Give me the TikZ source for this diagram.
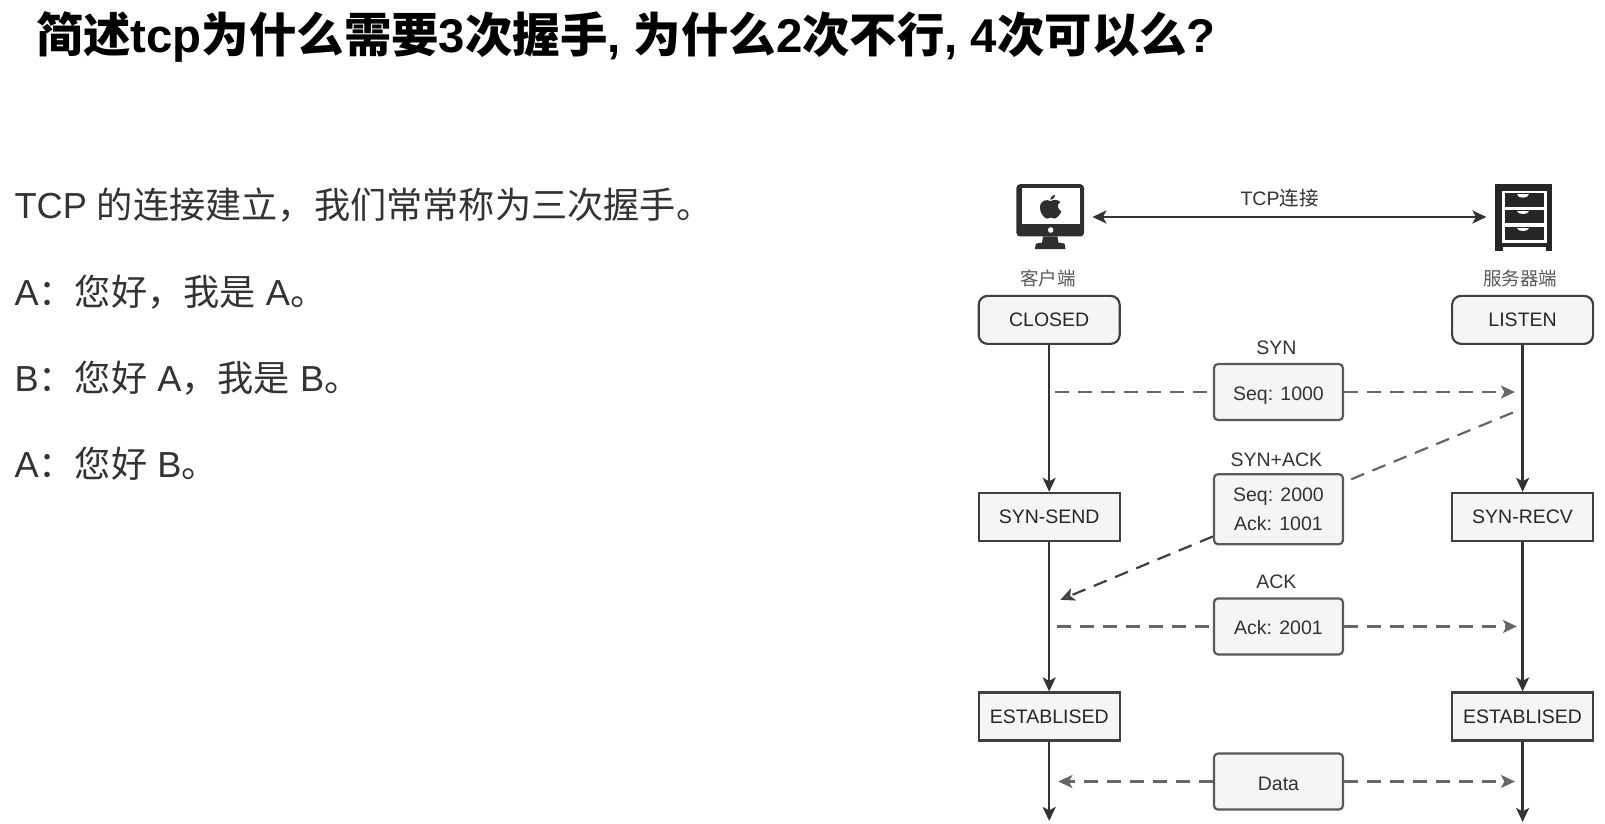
\documentclass[tikz,border=0pt]{standalone}
\usepackage{fontspec}
\setmainfont{Liberation Sans}
\newfontfamily\cjk{Noto Sans CJK SC}
\usetikzlibrary{arrows.meta}
\begin{document}
\begin{tikzpicture}[x=1.0236pt,y=-1.0236pt,
	head/.style={-{Stealth[length=14pt,width=13pt,inset=3.5pt]}},
	line/.style={draw=black!80,line width=2.3pt,head},
	msg/.style={draw=black!60,line width=2.2pt,dash pattern=on 14pt off 9pt},
	msgto/.style={msg,-{Stealth[length=14pt,width=13pt,inset=3.5pt,fill=black!60]}},
	state/.style={draw=black!75,fill=black!4,line width=2.2pt,minimum width=141pt,minimum height=48pt,font=\fontsize{19.5}{23}\selectfont,text=black!85,inner sep=0pt},
	round/.style={state,rounded corners=9pt},
	packet/.style={draw=black!65,fill=black!4,line width=2.2pt,rounded corners=4pt,minimum width=129pt,font=\fontsize{19.5}{29.5}\selectfont,text=black!80,inner sep=0pt,align=center},
	oneline/.style={packet,minimum height=56pt,text height=17pt,text depth=0pt},
	tag/.style={font=\fontsize{19.5}{23}\selectfont,text=black!80,inner sep=0pt},
	say/.style={anchor=west,inner sep=0pt,font=\fontsize{36.2}{43}\selectfont,text=black!80}]
	\useasboundingbox (0,0) rectangle (1568,805);
	\node[anchor=west,inner sep=0pt,font=\fontsize{47.4}{56}\selectfont\bfseries](title) at (35,36){{\cjk 简述}tcp{\cjk 为什么需要}3{\cjk 次握手}, {\cjk 为什么}2{\cjk 次不行}, 4{\cjk 次可以么}?};
	\node[say](l1) at (14,200){TCP {\cjk 的连接建立，我们常常称为三次握手。}};
	\node[say](l2) at (14,285){A{\cjk ：您好，我是} A{\cjk 。}};
	\node[say](l3) at (14,369){B{\cjk ：您好} A{\cjk ，我是} B{\cjk 。}};
	\node[say](l4) at (14,453){A{\cjk ：您好} B{\cjk 。}};

	% monitor
	\node[minimum width=68pt,minimum height=66pt,inner sep=0pt](mac) at (1026,212){};
	\fill[black!82,rounded corners=3.5pt] (993,180) rectangle (1059,231);
	\fill[white] (998,184) rectangle (1055,219);
	\fill[white] (1026.5,224.7) circle (2.7);
	\fill[black!82] (1019,231) -- (1033,231) -- (1034,237) -- (1040,238) -- (1041,243.5) -- (1011,243.5) -- (1012,238) -- (1018,237) -- cycle;
	\fill[black!82] (1026.5,196.5) .. controls (1023,194.5) and (1016,195) .. (1016,203) .. controls (1016,208) and (1020,213.5) .. (1023,213.5) .. controls (1025,213.5) and (1025,212.5) .. (1026.5,212.5) .. controls (1028,212.5) and (1028,213.5) .. (1030,213.5) .. controls (1032.5,213.5) and (1036,209) .. (1037,206.5) .. controls (1033,205) and (1032,199) .. (1036,197.5) .. controls (1033,194.5) and (1029,195) .. cycle;
	\fill[black!82] (1026,195.5) .. controls (1026,192.5) and (1028,190.5) .. (1031,190) .. controls (1031,193) and (1029,195) .. cycle;

	% cabinet
	\node[minimum width=57pt,minimum height=66pt,inner sep=0pt](cab) at (1489,212){};
	\fill[black!85] (1461,180) rectangle (1516.5,245);
	\fill[white] (1467,186.3) rectangle (1511,237);
	\fill[white] (1468,241.6) rectangle (1510,245);
	\foreach \y in {189,205.3,221.5}{
		\fill[black!85] (1470.3,\y) rectangle (1508.5,\y+13);
		\fill[white] (1482.5,\y+1) -- (1494,\y+1) .. controls (1494,\y+5) and (1482.5,\y+5) .. cycle;
	}
	\draw[line,shorten <=8pt,shorten >=9pt,{Stealth[length=14pt,width=13pt,inset=3.5pt]}-{Stealth[length=14pt,width=13pt,inset=3.5pt]}](mac) -- (cab);
	\node[tag](tcp) at (1250,194){TCP{\cjk 连接}};
	\node[tag,text=black!65,font=\fontsize{18.5}{22}\selectfont](cl) at (1024,272){\cjk 客户端};
	\node[tag,text=black!65,font=\fontsize{18.5}{22}\selectfont](sv) at (1485,272){\cjk 服务器端};

	\node[round](closed) at (1025,312.5){CLOSED};
	\node[round](listen) at (1487.5,312.5){LISTEN};
	\node[state](send) at (1025,505){SYN-SEND};
	\node[state](recv) at (1487.5,505){SYN-RECV};
	\node[state](est1) at (1025,700){ESTABLISED};
	\node[state](est2) at (1487.5,700){ESTABLISED};
	\coordinate (end1) at (1025,802);
	\coordinate (end2) at (1487.5,803);
	\draw[line](closed) -- (send);
	\draw[line](send) -- (est1);
	\draw[line](est1) -- (end1);
	\draw[line](listen) -- (recv);
	\draw[line](recv) -- (est2);
	\draw[line](est2) -- (end2);

	\node[oneline](p1) at (1249,383){Seq: 1000};
	\node[packet,minimum height=70pt,text depth=0pt](p2) at (1249,497.5){Seq: 2000\\Ack: 1001};
	\node[oneline](p3) at (1249,612){Ack: 2001};
	\node[oneline](p4) at (1249,763.5){Data};
	\node[tag](syn) at (1247,340){SYN};
	\node[tag](synack) at (1247,449){SYN+ACK};
	\node[tag](ack) at (1247,568){ACK};

	\coordinate (a1) at (1031,383);
	\coordinate (b1) at (1480,383);
	\coordinate (a2) at (1036,586);
	\coordinate (b2) at (1478,403);
	\coordinate (a3) at (1033,612);
	\coordinate (b3) at (1482,612);
	\coordinate (a4) at (1034,763.5);
	\coordinate (b4) at (1480,763.5);
	\draw[msg](a1) -- (p1);
	\draw[msgto](p1) -- (b1);
	\draw[msg](b2) -- (p2);
	\draw[msgto,black!75](p2) -- (a2);
	\draw[msg](a3) -- (p3);
	\draw[msgto](p3) -- (b3);
	\draw[msgto](p4) -- (a4);
	\draw[msgto](p4) -- (b4);
\end{tikzpicture}
\end{document}
